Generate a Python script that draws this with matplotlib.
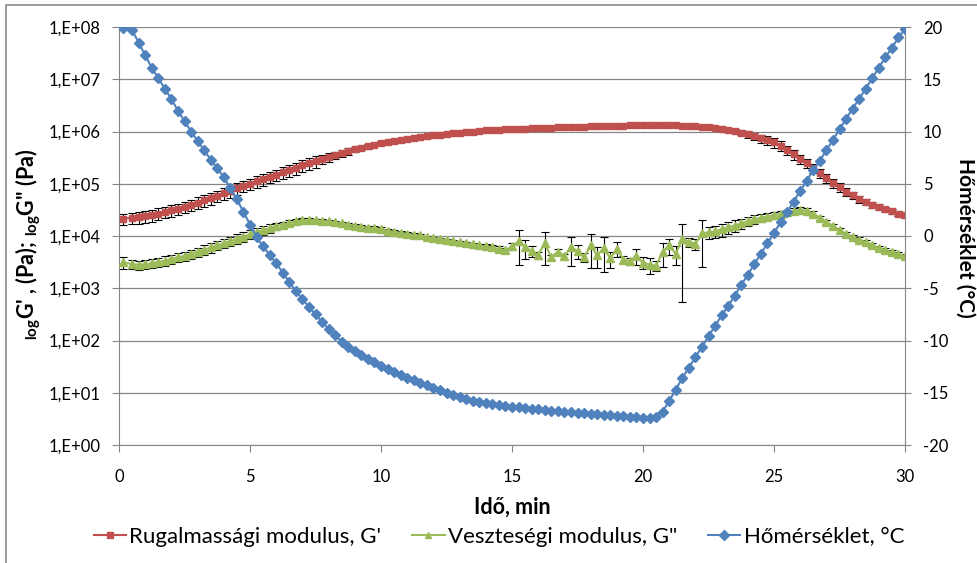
import numpy as np
import matplotlib
matplotlib.use("Agg")
from matplotlib import pyplot as plt
from matplotlib.lines import Line2D
from matplotlib.patches import Rectangle
from matplotlib.ticker import FixedLocator, FuncFormatter, NullLocator

plt.rcParams['font.family'] = ['Lato', 'DejaVu Sans']
plt.rcParams['axes.unicode_minus'] = False
plt.rcParams['mathtext.fontset'] = 'custom'
plt.rcParams['mathtext.rm'] = 'Lato'
plt.rcParams['mathtext.bf'] = 'Lato:bold'

#---------------------------adatok------------------------------------------
ido = [0.15, 0.5, 0.75, 1.0, 1.25, 1.5, 1.75, 2.0, 2.25, 2.5,
       2.75, 3.0, 3.25, 3.5, 3.75, 4.0, 4.25, 4.5, 4.75, 5.0,
       5.25, 5.5, 5.75, 6.0, 6.25, 6.5, 6.75, 7.0, 7.25, 7.5,
       7.75, 8.0, 8.25, 8.5, 8.75, 9.0, 9.25, 9.5, 9.75, 10.0,
       10.25, 10.5, 10.75, 11.0, 11.25, 11.5, 11.75, 12.0, 12.25, 12.5,
       12.75, 13.0, 13.25, 13.5, 13.75, 14.0, 14.25, 14.5, 14.75, 15.0,
       15.25, 15.5, 15.75, 16.0, 16.25, 16.5, 16.75, 17.0, 17.25, 17.5,
       17.75, 18.0, 18.25, 18.5, 18.75, 19.0, 19.25, 19.5, 19.75, 20.0,
       20.25, 20.5, 20.75, 21.0, 21.25, 21.5, 21.75, 22.0, 22.25, 22.5,
       22.75, 23.0, 23.25, 23.5, 23.75, 24.0, 24.25, 24.5, 24.75, 25.0,
       25.25, 25.5, 25.75, 26.0, 26.25, 26.5, 26.75, 27.0, 27.25, 27.5,
       27.75, 28.0, 28.25, 28.5, 28.75, 29.0, 29.25, 29.5, 29.75, 30.0]

# homerseklet, C
homerseklet = [19.9, 19.7, 18.5, 17.3, 16.1, 15.1, 14.1, 13.1, 12.0, 11.0,
               10.0, 9.1, 8.2, 7.3, 6.5, 5.6, 4.6, 3.5, 2.3, 1.1,
               -0.1, -1.0, -1.8, -2.6, -3.5, -4.4, -5.3, -6.0, -6.8, -7.5,
               -8.2, -8.9, -9.5, -10.1, -10.6, -11.0, -11.4, -11.75, -12.1, -12.4,
               -12.7, -13.0, -13.3, -13.55, -13.8, -14.05, -14.3, -14.5, -14.75, -15.0,
               -15.2, -15.4, -15.6, -15.75, -15.9, -16.0, -16.1, -16.2, -16.3, -16.35,
               -16.4, -16.5, -16.55, -16.6, -16.65, -16.7, -16.75, -16.8, -16.85, -16.9,
               -16.95, -17.0, -17.05, -17.1, -17.15, -17.2, -17.25, -17.3, -17.35, -17.4,
               -17.4, -17.3, -16.8, -15.8, -14.7, -13.6, -12.6, -11.6, -10.6, -9.6,
               -8.6, -7.6, -6.7, -5.7, -4.7, -3.7, -2.7, -1.7, -0.7, 0.3,
               1.3, 2.3, 3.3, 4.3, 5.3, 6.3, 7.2, 8.2, 9.2, 10.2,
               11.2, 12.2, 13.1, 14.1, 15.1, 16.1, 17.1, 18.0, 19.0, 19.8]

# log10 G' (Pa)
g1_log = [4.33, 4.35, 4.36, 4.38, 4.40, 4.43, 4.46, 4.49, 4.52, 4.56,
          4.60, 4.64, 4.68, 4.72, 4.77, 4.82, 4.86, 4.91, 4.96, 5.00,
          5.05, 5.09, 5.13, 5.17, 5.22, 5.26, 5.30, 5.35, 5.39, 5.43,
          5.47, 5.51, 5.55, 5.59, 5.62, 5.66, 5.69, 5.72, 5.75, 5.78,
          5.80, 5.82, 5.84, 5.86, 5.88, 5.90, 5.91, 5.93, 5.94, 5.95,
          5.97, 5.98, 5.99, 6.00, 6.01, 6.02, 6.02, 6.03, 6.04, 6.04,
          6.05, 6.05, 6.06, 6.06, 6.07, 6.07, 6.08, 6.08, 6.09, 6.09,
          6.09, 6.10, 6.10, 6.10, 6.11, 6.11, 6.11, 6.12, 6.12, 6.12,
          6.12, 6.12, 6.12, 6.12, 6.12, 6.11, 6.11, 6.10, 6.09, 6.08,
          6.07, 6.05, 6.03, 6.01, 5.98, 5.95, 5.91, 5.87, 5.83, 5.79,
          5.73, 5.65, 5.56, 5.47, 5.39, 5.30, 5.20, 5.11, 5.02, 4.93,
          4.85, 4.78, 4.71, 4.65, 4.60, 4.55, 4.51, 4.47, 4.43, 4.40]

# log10 G" (Pa)
g2_log = [3.50, 3.46, 3.45, 3.46, 3.48, 3.50, 3.53, 3.56, 3.59, 3.62,
          3.66, 3.70, 3.74, 3.78, 3.82, 3.86, 3.90, 3.95, 3.99, 4.03,
          4.07, 4.11, 4.15, 4.19, 4.22, 4.25, 4.28, 4.30, 4.31, 4.30,
          4.29, 4.28, 4.26, 4.24, 4.22, 4.20, 4.18, 4.16, 4.15, 4.13,
          4.10, 4.08, 4.06, 4.04, 4.02, 4.01, 3.98, 3.96, 3.94, 3.92,
          3.90, 3.88, 3.86, 3.84, 3.82, 3.80, 3.78, 3.75, 3.73, 3.80,
          3.90, 3.78, 3.72, 3.63, 3.87, 3.59, 3.70, 3.61, 3.79, 3.71,
          3.59, 3.82, 3.63, 3.77, 3.57, 3.76, 3.55, 3.52, 3.62, 3.49,
          3.45, 3.43, 3.70, 3.82, 3.66, 3.95, 3.89, 3.85, 4.05, 4.07,
          4.09, 4.13, 4.17, 4.20, 4.24, 4.28, 4.32, 4.35, 4.37, 4.40,
          4.42, 4.45, 4.48, 4.50, 4.48, 4.43, 4.35, 4.27, 4.19, 4.11,
          4.04, 3.98, 3.93, 3.88, 3.83, 3.77, 3.73, 3.69, 3.65, 3.62]

# szoras, % of value
g1_hiba = [25, 25, 25, 25, 25, 25, 25, 25, 25, 25,
           25, 25, 25, 25, 25, 25, 25, 25, 25, 25,
           25, 25, 25, 25, 25, 25, 25, 25, 25, 25,
           20, 18, 16, 15, 14, 12, 10, 10, 8, 8,
           6, 6, 6, 6, 6, 6, 6, 6, 6, 6,
           5, 5, 5, 5, 5, 5, 5, 5, 5, 5,
           4, 4, 4, 4, 4, 4, 4, 4, 4, 4,
           4, 4, 4, 4, 4, 4, 4, 4, 4, 4,
           4, 4, 4, 4, 4, 5, 5, 5, 6, 6,
           7, 8, 9, 10, 12, 14, 16, 18, 20, 20,
           20, 20, 20, 20, 20, 20, 20, 20, 20, 20,
           18, 16, 15, 14, 14, 13, 12, 12, 12, 12]

g2_hiba = [25, 20, 20, 20, 20, 20, 20, 20, 20, 20,
           20, 20, 20, 20, 20, 20, 20, 20, 20, 20,
           20, 20, 18, 16, 14, 12, 10, 10, 8, 8,
           8, 8, 8, 8, 8, 8, 8, 8, 8, 8,
           7, 7, 7, 7, 7, 7, 7, 7, 7, 7,
           7, 7, 8, 8, 8, 10, 10, 12, 12, 15,
           65, 41, 23, 15, 63, 12, 15, 12, 56, 29,
           20, 63, 44, 65, 35, 32, 15, 15, 33, 26,
           34, 22, 48, 35, 40, 94, 20, 25, 77, 25,
           25, 28, 25, 25, 22, 20, 20, 18, 15, 15,
           15, 12, 12, 12, 12, 10, 10, 10, 10, 10,
           10, 10, 10, 10, 10, 10, 10, 10, 10, 10]

piros = '#C0504D'
zold = '#9BBB59'
kek = '#4F81BD'
szurke = '#868686'

g1 = 10 ** np.array(g1_log)
g2 = 10 ** np.array(g2_log)

#---------------------------abra-------------------------------------------
fig = plt.figure(figsize=(9.77, 5.63), dpi=100)
fig.patches.append(Rectangle((6 / 977, -0.1), 2, 1.1 - 5 / 563, transform=fig.transFigure,
                             fill=False, edgecolor='#8C8C8C', lw=1.2))

ax = fig.add_axes([119 / 977, 1 - 445 / 563, 786 / 977, 418 / 563])
ax.set_yscale('log')
ax.set_xlim(0, 30)
ax.set_ylim(1, 1e8)

ax.errorbar(ido, g1, yerr=g1 * np.array(g1_hiba) / 100, fmt='none', ecolor='black',
            elinewidth=0.8, capsize=3, capthick=0.8, zorder=2)
ax.errorbar(ido, g2, yerr=g2 * np.array(g2_hiba) / 100, fmt='none', ecolor='black',
            elinewidth=0.8, capsize=3, capthick=0.8, zorder=2)
ax.plot(ido, g1, color=piros, lw=1.5, marker='s', ms=4.5, mec=piros, zorder=3)
ax.plot(ido, g2, color=zold, lw=1.5, marker='^', ms=5.5, mec=zold, zorder=3)

ax.yaxis.set_major_locator(FixedLocator([10.0 ** k for k in range(9)]))
ax.yaxis.set_minor_locator(NullLocator())
ax.yaxis.set_major_formatter(FuncFormatter(lambda v, p: '1,E+%02d' % round(np.log10(v))))
ax.set_xticks([0, 5, 10, 15, 20, 25, 30])
ax.grid(axis='y', color=szurke, lw=0.9)
ax.set_axisbelow(True)
ax.tick_params(axis='both', direction='out', length=5, color=szurke, labelsize=12, colors='black')
ax.tick_params(axis='y', pad=8)
ax.tick_params(axis='x', pad=12)
for s in ['left', 'bottom']:
    ax.spines[s].set_color(szurke)
ax.spines['top'].set_visible(False)
ax.spines['right'].set_visible(False)

ax2 = ax.twinx()
ax2.plot(ido, homerseklet, color=kek, lw=1.5, marker='D', ms=5, mec=kek, zorder=4)
ax2.set_ylim(-20, 20)
ax2.set_yticks([-20, -15, -10, -5, 0, 5, 10, 15, 20])
ax2.tick_params(axis='y', direction='out', length=4, color=szurke, labelsize=12, pad=9)
ax2.spines['right'].set_color(szurke)
for s in ['left', 'bottom', 'top']:
    ax2.spines[s].set_visible(False)

fig.text(512 / 977, 1 - 507 / 563, 'Idő, min', ha='center', va='center', fontsize=15.5, fontweight='bold')
fig.text(28 / 977, 1 - 244 / 563, '${}_{\\mathbf{log}}$G\' , (Pa); ${}_{\\mathbf{log}}$G" (Pa)',
         ha='center', va='center', rotation=90, fontsize=15.5, fontweight='bold')
fig.text(965 / 977, 1 - 238 / 563, 'Hőmérséklet (°C)', ha='center', va='center',
         rotation=-90, fontsize=15, fontweight='bold')

kezek = [Line2D([], [], color=piros, lw=1.5, marker='s', ms=4.5),
         Line2D([], [], color=zold, lw=1.5, marker='^', ms=5),
         Line2D([], [], color=kek, lw=1.5, marker='D', ms=5)]
fig.legend(kezek, ["Rugalmassági modulus, G'", 'Veszteségi modulus, G"', 'Hőmérséklet, °C'],
           loc='center', bbox_to_anchor=(499 / 977, 1 - 537 / 563), ncol=3, frameon=False,
           fontsize=16, handlelength=1.45, handletextpad=0.15, columnspacing=1.4)

plt.savefig('out.png', dpi=100)
